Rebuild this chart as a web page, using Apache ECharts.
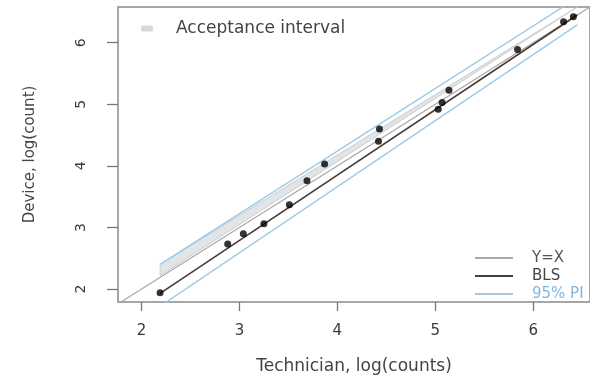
<!DOCTYPE html>
<html>
<head>
<meta charset="utf-8">
<script src="https://cdn.jsdelivr.net/npm/echarts@6/dist/echarts.min.js"></script>
<style>
  html, body { margin: 0; padding: 0; background: #fff; }
  #chart { width: 590px; height: 380px; }
</style>
</head>
<body>
<div id="chart"></div>
<script>
// measured points, log(counts)
var techX   = [2.19, 2.88, 3.04, 3.25, 3.51, 3.69, 3.87, 4.42, 4.43, 5.03, 5.07, 5.14, 5.84, 6.31, 6.41];
var deviceY = [1.94, 2.73, 2.90, 3.06, 3.37, 3.76, 4.03, 4.40, 4.60, 4.92, 5.03, 5.23, 5.89, 6.34, 6.42];

// fitted lines (end points)
var lineX      = [2.19, 6.45];
var blsY       = [1.93, 6.45];
var piLowY     = [1.72, 6.29];
var piHighY    = [2.40, 6.73];
var accLowY    = [2.22, 6.62];
var accHighY   = [2.40, 6.73];
var identityXY = [1.76, 6.58];

var xTicks = [2, 3, 4, 5, 6];
var yTicks = [2, 3, 4, 5, 6];

function pairs(xs, ys) {
    return xs.map(function (x, i) { return [x, ys[i]]; });
}

var font = 'DejaVu Sans';
var myCharts = echarts.init(document.getElementById('chart'));

// band between accLowY and accHighY, drawn through the axes
function renderBand(params, api) {
    var pts = [];
    lineX.forEach(function (x, i) { pts.push(api.coord([x, accLowY[i]])); });
    for (var i = lineX.length - 1; i >= 0; i--) {
        pts.push(api.coord([lineX[i], accHighY[i]]));
    }
    var cs = params.coordSys;
    pts = echarts.graphic.clipPointsByRect(pts, { x: cs.x, y: cs.y, width: cs.width, height: cs.height });
    return {
        type: 'polygon',
        shape: { points: pts },
        style: { fill: '#e2e5e8', stroke: '#c8cdd0', lineWidth: 1 }
    };
}

var option = {
    backgroundColor: '#fff',
    animation: false,
    textStyle: { fontFamily: font },
    grid: {
        left: 118, top: 7, right: -15, bottom: 75,
        show: true, borderColor: '#8a8a8a', borderWidth: 1.5
    },
    legend: [{
        data: ['Acceptance interval'],
        left: 136, top: 15,
        icon: 'roundRect',
        itemWidth: 12, itemHeight: 6,
        textStyle: { fontSize: 17, color: '#444', padding: [0, 0, 0, 18], fontFamily: font }
    }, {
        data: [
            { name: 'Y=X', textStyle: { color: '#555' } },
            { name: 'BLS', textStyle: { color: '#444' } },
            { name: '95% PI', textStyle: { color: '#7fb6e0' } }
        ],
        orient: 'vertical',
        left: 470, top: 245,
        icon: 'rect',
        itemWidth: 38, itemHeight: 2,
        itemGap: 2,
        textStyle: { fontSize: 15, lineHeight: 16, padding: [0, 0, 0, 14], fontFamily: font }
    }],
    xAxis: {
        type: 'value',
        min: 1.76, max: 6.58,
        name: 'Technician, log(counts)',
        nameLocation: 'middle', nameGap: 56,
        nameTextStyle: { fontSize: 17, color: '#444' },
        splitLine: { show: false },
        axisLine: { show: false },
        axisTick: { show: true, length: 9, customValues: xTicks, lineStyle: { color: '#777', width: 1.3 } },
        axisLabel: { customValues: xTicks, fontSize: 15, color: '#3a3a3a', margin: 22 }
    },
    yAxis: {
        type: 'value',
        min: 1.79, max: 6.58,
        name: 'Device, log(count)',
        nameLocation: 'middle', nameGap: 80, nameRotate: 90,
        nameTextStyle: { fontSize: 15, color: '#444' },
        splitLine: { show: false },
        axisLine: { show: false },
        axisTick: { show: true, length: 11, customValues: yTicks, lineStyle: { color: '#777', width: 1.3 } },
        axisLabel: { customValues: yTicks, rotate: 90, fontSize: 14, color: '#3a3a3a', margin: 30 }
    },
    series: [{
        name: 'Acceptance interval',
        type: 'custom',
        data: [[lineX[0], accLowY[0]]],
        renderItem: renderBand,
        color: '#d6d9dc',
        z: 1
    }, {
        name: 'Y=X',
        type: 'line',
        data: pairs(identityXY, identityXY),
        symbol: 'none',
        color: '#a8a8a8',
        lineStyle: { color: '#a8a8a8', width: 1.2 },
        z: 2
    }, {
        name: '95% PI',
        type: 'line',
        data: pairs(lineX, piLowY),
        symbol: 'none',
        color: '#9cc9e6',
        lineStyle: { color: '#9cc9e6', width: 1.4 },
        z: 2
    }, {
        name: '95% PI',
        type: 'line',
        data: pairs(lineX, piHighY),
        symbol: 'none',
        color: '#9cc9e6',
        lineStyle: { color: '#9cc9e6', width: 1.4 },
        z: 2
    }, {
        name: 'BLS',
        type: 'line',
        data: pairs(lineX, blsY),
        symbol: 'none',
        color: '#4a3a38',
        lineStyle: { color: '#4a3a38', width: 1.6 },
        z: 3
    }, {
        name: 'points',
        type: 'scatter',
        data: pairs(techX, deviceY),
        symbolSize: 7,
        itemStyle: { color: '#000' },
        z: 4
    }]
};

myCharts.setOption(option);
</script>
</body>
</html>
